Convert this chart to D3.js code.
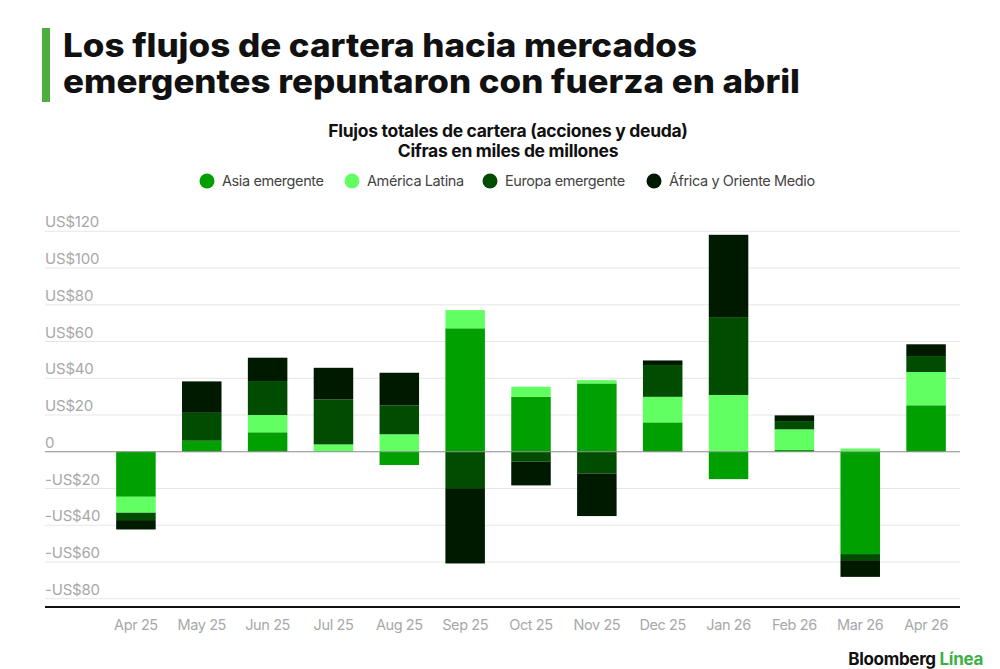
<!DOCTYPE html>
<html>
<head>
<meta charset="utf-8">
<script src="https://cdn.jsdelivr.net/npm/d3@7"></script>
<style>
  body { margin: 0; background: #fff; }
  svg { display: block; }
</style>
</head>
<body>
<div id="chart"></div>
<script>
// Data (billions of US$)
const months = ['Apr 25', 'May 25', 'Jun 25', 'Jul 25', 'Aug 25', 'Sep 25', 'Oct 25',
                'Nov 25', 'Dec 25', 'Jan 26', 'Feb 26', 'Mar 26', 'Apr 26'];
const seriesNames = ['Asia emergente', 'América Latina', 'Europa emergente', 'África y Oriente Medio'];
const asia   = [-24.5, 6.0, 10.6, 0, -7.2, 67.2, 29.9, 37.2, 16.0, -14.9, 1.0, -55.7, 25.3];
const latam  = [-8.7, 0, 9.4, 4.0, 9.5, 9.9, 5.5, 1.8, 13.9, 30.9, 11.2, 1.8, 18.1];
const europa = [-4.0, 15.2, 18.5, 24.5, 15.8, -19.8, -5.4, -11.8, 17.3, 42.4, 4.5, -3.3, 8.7];
const africa = [-5.1, 17.1, 12.7, 17.2, 17.7, -41.0, -12.9, -23.2, 2.5, 44.8, 3.1, -9.1, 6.4];
const yTicks = [-80, -60, -40, -20, 0, 20, 40, 60, 80, 100, 120];

const colors = ['#00a000', '#62ff62', '#004c00', '#001a00'];

const width = 1000;
const height = 669;

const svg = d3.select('#chart').append('svg')
    .attr('width', width)
    .attr('height', height);

// Title with the green accent bar
svg.append('rect')
    .attr('x', 42).attr('y', 28)
    .attr('width', 8).attr('height', 74)
    .attr('fill', '#4cae3f');

const titleLines = [
    { text: 'Los flujos de cartera hacia mercados', y: 56.5, target: 634 },
    { text: 'emergentes repuntaron con fuerza en abril', y: 93, target: 737 }
];
// heavy face squeezed to the widths seen in the picture
svg.append('g')
    .selectAll('text')
    .data(titleLines)
    .enter()
    .append('text')
    .attr('x', 63)
    .attr('y', d => d.y)
    .attr('textLength', d => d.target)
    .attr('lengthAdjust', 'spacingAndGlyphs')
    .style('font-family', 'Inter, sans-serif')
    .style('font-weight', 800)
    .style('font-size', '32.5px')
    .attr('fill', '#111')
    .text(d => d.text);

// Subtitle
const subtitle = ['Flujos totales de cartera (acciones y deuda)', 'Cifras en miles de millones'];
svg.append('g')
    .selectAll('text')
    .data(subtitle)
    .enter()
    .append('text')
    .attr('x', 508)
    .attr('y', (d, i) => 137 + i * 19.5)
    .attr('text-anchor', 'middle')
    .style('font-family', 'Inter, sans-serif')
    .style('font-weight', 'bold')
    .style('font-size', '17.5px')
    .style('letter-spacing', '-0.3px')
    .attr('fill', '#111')
    .text(d => d);

// Legend
const legendX = [207, 352, 490, 654];
const legend = svg.selectAll('.legend')
    .data(seriesNames)
    .enter()
    .append('g')
    .attr('class', 'legend')
    .attr('transform', (d, i) => `translate(${legendX[i]}, 181)`);

legend.append('circle')
    .attr('r', 7.5)
    .attr('fill', (d, i) => colors[i]);

legend.append('text')
    .attr('x', 15)
    .attr('y', 5)
    .style('font-family', 'Inter, sans-serif')
    .style('font-size', '14.5px')
    .style('letter-spacing', '-0.4px')
    .attr('fill', '#444')
    .text(d => d);

// Scales
const x = d3.scaleBand()
    .domain(months)
    .range([103, 959])
    .paddingInner(0.4)
    .paddingOuter(0.2);

const y = d3.scaleLinear()
    .domain([-84.5, 120])
    .range([607, 231.3]);

// Gridlines and y labels
svg.append('g')
    .selectAll('line')
    .data(yTicks.filter(d => d !== 0))
    .enter()
    .append('line')
    .attr('x1', 45).attr('x2', 960)
    .attr('y1', d => y(d)).attr('y2', d => y(d))
    .attr('stroke', '#e6e6e6')
    .attr('stroke-width', 1);

svg.append('g')
    .selectAll('text')
    .data(yTicks)
    .enter()
    .append('text')
    .attr('x', 45)
    .attr('y', d => y(d) - 4)
    .style('font-family', 'Inter, sans-serif')
    .style('font-size', '15px')
    .style('letter-spacing', '-0.2px')
    .attr('fill', '#a8a8a8')
    .text(d => d === 0 ? '0' : (d < 0 ? '-US$' + Math.abs(d) : 'US$' + d));

// Stack positives up and negatives down from zero
const seriesValues = [asia, latam, europa, africa];
const stacked = d3.stack()
    .keys(d3.range(seriesNames.length))
    .value((d, k) => seriesValues[k][d])
    .offset(d3.stackOffsetDiverging)(d3.range(months.length));

svg.append('g')
    .selectAll('g')
    .data(stacked)
    .enter()
    .append('g')
    .attr('fill', (d, i) => colors[i])
    .selectAll('rect')
    .data(d => d)
    .enter()
    .append('rect')
    .attr('x', d => x(months[d.data]))
    .attr('width', x.bandwidth())
    .attr('y', d => y(d[1]))
    .attr('height', d => y(d[0]) - y(d[1]));

// Zero line
svg.append('line')
    .attr('x1', 45).attr('x2', 960)
    .attr('y1', y(0)).attr('y2', y(0))
    .attr('stroke', '#8a8a8a')
    .attr('stroke-width', 1.2);

// X axis
const xAxis = svg.append('g')
    .attr('transform', `translate(0, ${y(-84.5)})`)
    .call(d3.axisBottom(x).tickSize(0).tickPadding(13));
xAxis.select('.domain')
    .attr('d', 'M45,0H960')
    .attr('stroke', '#111')
    .attr('stroke-width', 2);
xAxis.selectAll('text')
    .style('font-family', 'Inter, sans-serif')
    .style('font-size', '14.5px')
    .style('letter-spacing', '-0.4px')
    .attr('fill', '#a8a8a8');

// Source logo
const logo = svg.append('text')
    .attr('x', 983).attr('y', 665)
    .attr('text-anchor', 'end')
    .style('font-family', 'Inter, sans-serif')
    .style('font-weight', 'bold')
    .style('font-size', '17px')
    .style('letter-spacing', '-0.3px');
logo.append('tspan').attr('fill', '#111').text('Bloomberg ');
logo.append('tspan').attr('fill', '#3cb043').text('Línea');
</script>
</body>
</html>
